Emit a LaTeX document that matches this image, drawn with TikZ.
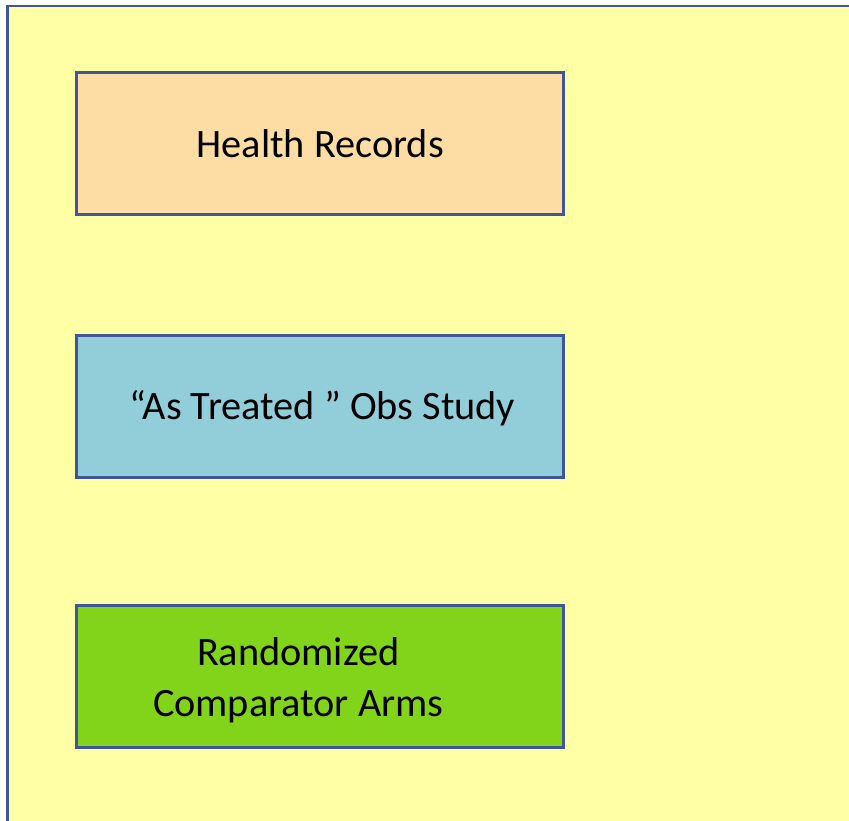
\documentclass[tikz,border=0pt]{standalone}
\usepackage{fontspec}
\setmainfont{Carlito}
\definecolor{pagebg}{HTML}{FFFFA6}
\definecolor{frameblue}{HTML}{40569A}
\definecolor{recfill}{HTML}{FDDDA3}
\definecolor{obsfill}{HTML}{92CDDA}
\definecolor{rndfill}{HTML}{82D41B}
\begin{document}
\begin{tikzpicture}[x=1pt,y=-1pt,
  panel/.style={draw=frameblue,line width=2.5pt,minimum width=487pt,minimum height=142pt,
    inner sep=0pt,anchor=north west},
  label/.style={font=\fontsize{40.3}{51}\selectfont,align=center,inner sep=0pt}]
\useasboundingbox (0,0) rectangle (849,820);
\begin{scope}
\clip (0,0) rectangle (849,820);
\draw[frameblue,fill=pagebg,line width=2.5pt] (7.5,6) rectangle (880,850);
\end{scope}
\node[panel,fill=recfill] (rec) at (75,71) {};
\node[label] (rectext) at ([xshift=0.5pt]rec.center) {Health Records};
\node[panel,fill=obsfill] (obs) at (75,334) {};
\node[label] (obstext) at ([xshift=2.5pt,yshift=-2pt]obs.center) {“As Treated ” Obs Study};
\node[panel,fill=rndfill] (rnd) at (75,604) {};
\node[label] (rndtext) at ([xshift=-21.5pt,yshift=-4pt]rnd.center) {Randomized\\Comparator Arms};
\end{tikzpicture}
\end{document}
